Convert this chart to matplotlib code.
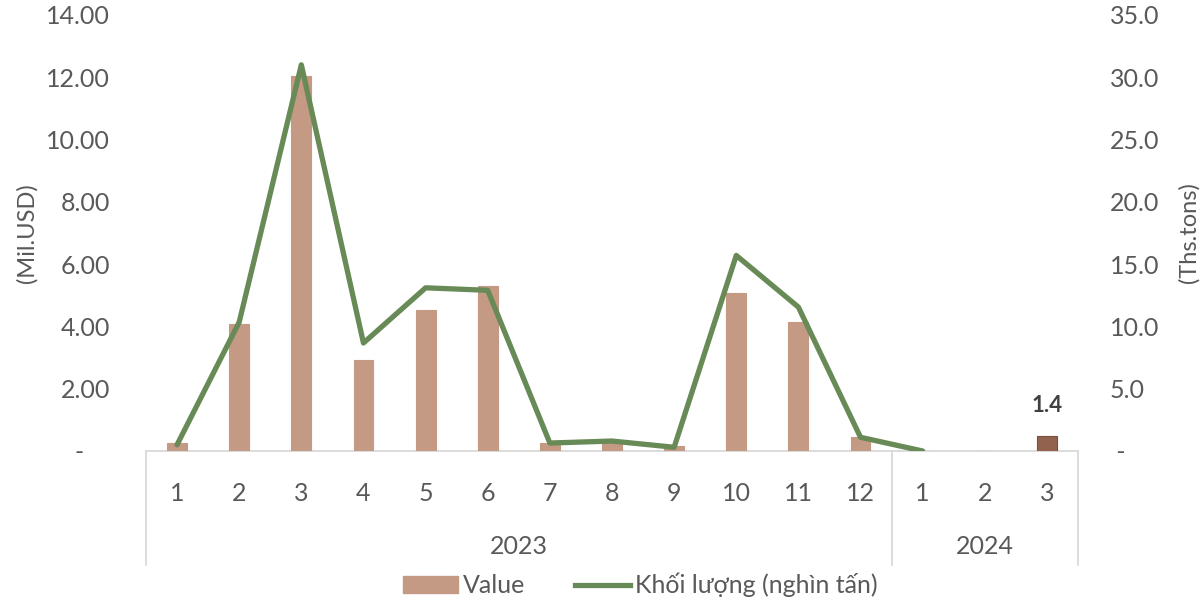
import matplotlib
matplotlib.use("Agg")
import matplotlib.pyplot as plt
from matplotlib.lines import Line2D
import matplotlib.transforms as mtransforms

plt.rcParams['font.family'] = ['Lato', 'DejaVu Sans']

months = ["1", "2", "3", "4", "5", "6", "7", "8", "9", "10", "11", "12", "1", "2", "3"]
years = ["2023", "2024"]
year_counts = [12, 3]
value = [0.26, 4.08, 12.04, 2.92, 4.53, 5.30, 0.26, 0.32, 0.16, 5.07, 4.14, 0.45, 0.0, 0.0, 0.48]
volume = [0.5, 10.35, 31.0, 8.67, 13.1, 12.9, 0.64, 0.8, 0.3, 15.7, 11.55, 1.1, 0.0]
bar_label_text = "1.4"
highlight_index = 14

bar_color = "#C49A85"
hi_color = "#93624F"
line_color = "#678A56"
txt_color = "#595959"
grid_color = "#D9D9D9"

fig = plt.figure(figsize=(12.01, 6.03), dpi=100)
ax = fig.add_axes([146/1201, 1-451/603, (1078-146)/1201, (451-15)/603])
ax2 = ax.twinx()

x = list(range(len(months)))
colors = [hi_color if i == highlight_index else bar_color for i in x]
edges = ["#7A4E3F" if i == highlight_index else bar_color for i in x]
ax.bar(x, value, width=0.32, color=colors, edgecolor=edges, linewidth=0.8, zorder=2)
ax2.plot(list(range(len(volume))), volume, color=line_color, lw=3.8,
         solid_joinstyle='round', solid_capstyle='round', zorder=3)

ax.set_xlim(-0.5, len(months) - 0.5)
ax.set_ylim(0, 14)
ax2.set_ylim(0, 35)

lt = [0, 2, 4, 6, 8, 10, 12, 14]
ax.set_yticks(lt)
ax.set_yticklabels(["-    "] + [f"{v:.2f}" for v in lt[1:]])
rt = [0, 5, 10, 15, 20, 25, 30, 35]
ax2.set_yticks(rt)
ax2.set_yticklabels([" -"] + [f"{v:.1f}" for v in rt[1:]])

ax.tick_params(axis='y', length=0, pad=26, labelsize=18, labelcolor=txt_color)
ax2.tick_params(axis='y', length=0, pad=23, labelsize=18, labelcolor=txt_color)

ax.set_xticks(x)
ax.set_xticklabels(months)
ax.tick_params(axis='x', length=0, pad=22, labelsize=18, labelcolor=txt_color)

for a in (ax, ax2):
    for s in ["top", "left", "right", "bottom"]:
        a.spines[s].set_visible(False)
ax.add_line(Line2D([0, 1], [0, 0], transform=ax.transAxes, color=grid_color, lw=1.3, clip_on=False, zorder=1))

fig.text(27/1201, 1-233/603, "(Mil.USD)", rotation=90, ha='center', va='center',
         fontsize=17, color=txt_color)
fig.text(1189/1201, 1-233/603, "(Ths.tons)", rotation=90, ha='center', va='center',
         fontsize=17, color=txt_color)

# multi-level category axis
trans = mtransforms.blended_transform_factory(ax.transData, ax.transAxes)
depth = -(565 - 451) / 436
bounds = [-0.5]
for c in year_counts:
    bounds.append(bounds[-1] + c)
for b in bounds:
    ax.add_line(Line2D([b, b], [0, depth], transform=trans, color=grid_color, lw=1.3, clip_on=False))
for i, yr in enumerate(years):
    cx = (bounds[i] + bounds[i+1]) / 2
    ax.text(cx, -(546 - 451) / 436, yr, transform=trans, ha='center', va='center',
            fontsize=18, color=txt_color)

ax.annotate(bar_label_text, (highlight_index, value[highlight_index]), xytext=(0, 22),
            textcoords='offset points', ha='center', va='center', fontsize=16,
            fontweight='bold', color="#404040")

handles = [plt.Rectangle((0, 0), 1, 1, color=bar_color),
           Line2D([0], [0], color=line_color, lw=3.8)]
fig.legend(handles, ["Value", "Khối lượng (nghìn tấn)"], loc='center',
           bbox_to_anchor=(640/1201, 1-585/603), ncol=2, frameon=False,
           fontsize=18, labelcolor=txt_color, handlelength=2.2, columnspacing=2.0,
           handletextpad=0.2)

fig.savefig("out.png", dpi=100)
